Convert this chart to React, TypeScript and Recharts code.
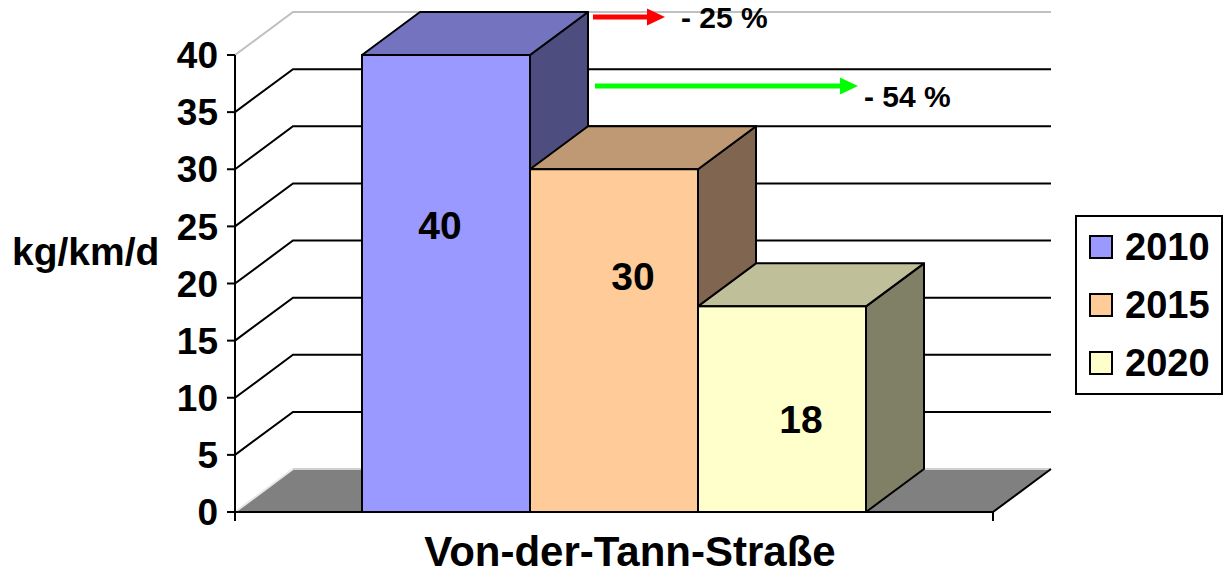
import { BarChart, Bar, XAxis, YAxis, CartesianGrid, LabelList, Legend } from 'recharts'

const STREETS = ['Von-der-Tann-Straße']
const YEARS = ['2010', '2015', '2020']
const LOAD_2010 = [40]
const LOAD_2015 = [30]
const LOAD_2020 = [18]
const Y_TICKS = [0, 5, 10, 15, 20, 25, 30, 35, 40]
const CHANGE_LABELS = ['- 25 %', '- 54 %']
const UNIT = 'kg/km/d'

const rows = STREETS.map((street, i) => ({
  street,
  y2010: LOAD_2010[i],
  y2015: LOAD_2015[i],
  y2020: LOAD_2020[i],
}))

// depth of the 3d box (to the back, up)
const DX = 58
const DY = -43
const FONT = 'Arial, "Liberation Sans", sans-serif'

// front / top / side shades, like excel does it
const FACES = [
  { front: '#9999FF', top: '#7373BF', side: '#4D4D80' },
  { front: '#FFCC99', top: '#BF9973', side: '#806650' },
  { front: '#FFFFCC', top: '#BFBF99', side: '#808066' },
]

// excel puts the value labels somewhere odd in 3d, shift from the face centre
const LABEL_SHIFT = [
  { dx: -6, dy: -58 },
  { dx: 19, dy: -64 },
  { dx: 19, dy: 10 },
]

const SERIES = YEARS.map((name, i) => ({ key: `y${name}`, name, ...FACES[i], shift: LABEL_SHIFT[i] }))

// change arrows, drawn on top
const ARROWS = [
  { color: '#FF0000', y: 17, x0: 593, x1: 665, tx: 681, ty: 28 },
  { color: '#00FF00', y: 86, x0: 595, x1: 858, tx: 864, ty: 107 },
]

function Box3D(props: any) {
  const { x, y, width: w, height: h, faces } = props
  if (w == null || h == null) return null
  const top = `${x},${y} ${x + w},${y} ${x + w + DX},${y + DY} ${x + DX},${y + DY}`
  const side = `${x + w},${y} ${x + w + DX},${y + DY} ${x + w + DX},${y + h + DY} ${x + w},${y + h}`
  return (
    <g>
      <polygon points={side} fill={faces.side} stroke="#000" strokeWidth={2} strokeLinejoin="round" />
      <polygon points={top} fill={faces.top} stroke="#000" strokeWidth={2} strokeLinejoin="round" />
      <rect x={x} y={y} width={w} height={h} fill={faces.front} stroke="#000" strokeWidth={2} />
    </g>
  )
}

// back wall + side wall lines, and the floor for the 0 line
function WallLine(props: any) {
  const { x1, x2, y1, y, height, key } = props
  if (Math.abs(y1 - (y + height)) < 1) {
    return (
      <g key={key}>
        <polygon
          points={`${x1},${y1} ${x2},${y1} ${x2 + DX},${y1 + DY} ${x1 + DX},${y1 + DY}`}
          fill="#808080"
        />
        <line x1={x1} y1={y1} x2={x1 + DX} y2={y1 + DY} stroke="#E8E8E8" strokeWidth={2} />
        <line x1={x1 + DX} y1={y1 + DY} x2={x2 + DX} y2={y1 + DY} stroke="#D0D0D0" strokeWidth={2} />
        <line x1={x2} y1={y1} x2={x2 + DX} y2={y1 + DY} stroke="#000" strokeWidth={2} />
        <line x1={x1} y1={y1} x2={x1} y2={y1 + 9} stroke="#000" strokeWidth={2} />
        <line x1={x2} y1={y1} x2={x2} y2={y1 + 9} stroke="#000" strokeWidth={2} />
      </g>
    )
  }
  const isTop = Math.abs(y1 - y) < 1
  return (
    <polyline
      key={key}
      points={`${x1},${y1} ${x1 + DX},${y1 + DY} ${x2 + DX},${y1 + DY}`}
      fill="none"
      stroke={isTop ? '#C0C0C0' : '#000'}
      strokeWidth={2}
    />
  )
}

function UnitLabel(props: any) {
  const vb = props.viewBox || {}
  return (
    <text
      x={vb.x + 12}
      y={vb.y + vb.height / 2 - 32}
      dominantBaseline="central"
      fontFamily={FONT}
      fontWeight="bold"
      fontSize={39}
      fill="#000"
    >
      {UNIT}
    </text>
  )
}

function StreetTick(props: any) {
  const { x, y, payload } = props
  return (
    <text x={x + 16} y={y} dy={54} textAnchor="middle" fontFamily={FONT} fontWeight="bold" fontSize={42} fill="#000">
      {payload.value}
    </text>
  )
}

function valueLabel(shift: { dx: number; dy: number }) {
  return (props: any) => {
    const { x, y, width, height, value } = props
    return (
      <text
        x={x + width / 2 + shift.dx}
        y={y + height / 2 + shift.dy}
        textAnchor="middle"
        dominantBaseline="central"
        fontFamily={FONT}
        fontWeight="bold"
        fontSize={39}
        fill="#000"
      >
        {value}
      </text>
    )
  }
}

function YearLegend() {
  return (
    <div
      style={{
        border: '2px solid #000',
        background: '#fff',
        width: 144,
        paddingTop: 1,
        paddingBottom: 1,
        fontFamily: FONT,
      }}
    >
      {SERIES.map((s) => (
        <div key={s.key} style={{ display: 'flex', alignItems: 'center', height: 58 }}>
          <span
            style={{
              display: 'inline-block',
              width: 20,
              height: 20,
              border: '2px solid #000',
              background: s.front,
              marginLeft: 12,
              marginRight: 12,
            }}
          />
          <span style={{ fontSize: 38, fontWeight: 'bold', lineHeight: '58px', color: '#000' }}>{s.name}</span>
        </div>
      ))}
    </div>
  )
}

export default function App() {
  return (
    <div style={{ position: 'absolute', left: 0, top: 0, width: 1228, height: 576, background: '#fff' }}>
      <BarChart
        width={1228}
        height={576}
        data={rows}
        margin={{ top: 55, right: 235, bottom: 0, left: 0 }}
        barGap={0}
        barSize={168}
      >
        <CartesianGrid horizontal={WallLine} vertical={false} />
        <XAxis
          dataKey="street"
          height={64}
          tickSize={0}
          tickMargin={0}
          tickLine={false}
          axisLine={{ stroke: '#000', strokeWidth: 2 }}
          tick={<StreetTick />}
        />
        <YAxis
          type="number"
          domain={[0, 40]}
          ticks={Y_TICKS}
          width={235}
          tickSize={8}
          tickMargin={9}
          interval={0}
          axisLine={{ stroke: '#000', strokeWidth: 2 }}
          tickLine={{ stroke: '#000', strokeWidth: 2 }}
          tick={{ fontSize: 37, fontWeight: 'bold', fill: '#000', fontFamily: FONT }}
          label={<UnitLabel />}
        />
        {SERIES.map((s) => (
          <Bar
            key={s.key}
            dataKey={s.key}
            name={s.name}
            fill={s.front}
            isAnimationActive={false}
            shape={(p: any) => <Box3D {...p} faces={s} />}
          >
            <LabelList dataKey={s.key} content={valueLabel(s.shift)} />
          </Bar>
        ))}
        <Legend
          layout="vertical"
          align="center"
          verticalAlign="middle"
          wrapperStyle={{ left: 1075, top: 215, width: 148 }}
          content={<YearLegend />}
        />
      </BarChart>
      <svg
        width={1228}
        height={576}
        style={{ position: 'absolute', left: 0, top: 0, pointerEvents: 'none' }}
      >
        {ARROWS.map((a, i) => (
          <g key={i}>
            <rect x={a.x0} y={a.y - 2.5} width={a.x1 - a.x0 - 16} height={5} fill={a.color} />
            <polygon points={`${a.x1 - 18},${a.y - 8.5} ${a.x1},${a.y} ${a.x1 - 18},${a.y + 8.5}`} fill={a.color} />
            <text x={a.tx} y={a.ty} fontFamily={FONT} fontWeight="bold" fontSize={30} fill="#000">
              {CHANGE_LABELS[i]}
            </text>
          </g>
        ))}
      </svg>
    </div>
  )
}
